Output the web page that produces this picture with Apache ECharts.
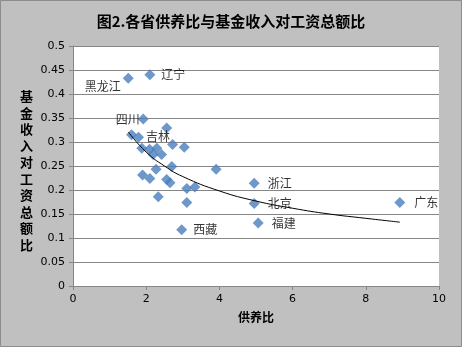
<!DOCTYPE html>
<html><head><meta charset="utf-8">
<script src="https://cdn.jsdelivr.net/npm/echarts@6/dist/echarts.min.js"></script>
<style>html,body{margin:0;padding:0;background:#c0c0c0}#c{width:462px;height:347px}</style>
</head><body><div id="c"></div>
<script>
// Scatter points: dependency ratio (x) vs fund income / total wages (y)
const xVals = [1.51, 2.10, 1.92, 2.56, 1.60, 1.79, 2.72, 3.04, 1.88, 2.09, 2.29, 2.42, 2.19, 2.27, 2.70, 3.91, 1.90, 2.10, 2.56, 2.65, 4.95, 3.11, 3.33, 2.33, 3.11, 4.95, 5.06, 2.97, 8.93];
const yVals = [0.433, 0.440, 0.348, 0.329, 0.315, 0.310, 0.295, 0.289, 0.287, 0.285, 0.287, 0.274, 0.274, 0.243, 0.249, 0.243, 0.231, 0.224, 0.222, 0.215, 0.214, 0.203, 0.206, 0.186, 0.174, 0.172, 0.131, 0.117, 0.174];
const pointNames = ['黑龙江', '辽宁', '四川', '', '', '吉林', '', '', '', '', '', '', '', '', '', '', '', '', '', '', '浙江', '', '', '', '', '北京', '福建', '西藏', '广东'];
// Trend line
const trendX = [1.51, 2, 2.5, 3, 4, 5, 6, 7, 8, 8.93];
const trendY = [0.321, 0.279, 0.250, 0.228, 0.198, 0.177, 0.162, 0.150, 0.141, 0.133];
const xTicks = [0, 2, 4, 6, 8, 10];
const yTicks = [0, 0.05, 0.1, 0.15, 0.2, 0.25, 0.3, 0.35, 0.4, 0.45, 0.5];

const labelStyle = {
  '黑龙江': {position: 'left', offset: [3, 8]},
  '四川': {position: 'left', offset: [7, 0]},
  '吉林': {position: 'right', offset: [-3, -1]},
  '辽宁': {position: 'right', offset: [1, 0]},
  '西藏': {position: 'right', offset: [1, 0]},
  '广东': {position: 'right', offset: [4, 0]}
};
const scatterData = xVals.map((x, i) => {
  const n = pointNames[i];
  const d = {value: [x, yVals[i]], name: n};
  if (n) {
    const s = labelStyle[n] || {position: 'right', offset: [3, 0]};
    d.label = {show: true, formatter: n, position: s.position, offset: s.offset,
      color: '#000', fontSize: 12, fontFamily: 'Noto Sans CJK SC'};
  }
  return d;
});

const chart = echarts.init(document.getElementById('c'));
chart.setOption({
  backgroundColor: '#c0c0c0',
  animation: false,
  graphic: [{type: 'rect', shape: {x: 0.5, y: 0.5, width: 461, height: 346},
    style: {fill: 'none', stroke: '#8c8c8c', lineWidth: 1}, z: 100},
  {type: 'text', left: 20, top: 88, z: 100,
    style: {text: '基\n金\n收\n入\n对\n工\n资\n总\n额\n比', fill: '#000', fontSize: 13, lineHeight: 16.5,
      fontWeight: 'bold', fontFamily: 'Noto Sans CJK SC'}}],
  title: {text: '图2.各省供养比与基金收入对工资总额比', left: 'center', top: 9,
    textStyle: {fontSize: 15, fontWeight: 'bold', color: '#000', fontFamily: 'Noto Sans CJK SC'}},
  grid: {left: 73, right: 23, top: 46, bottom: 61, show: true, backgroundColor: '#fff', borderWidth: 0},
  xAxis: {type: 'value', min: 0, max: 10, interval: 2,
    name: '供养比', nameLocation: 'middle', nameGap: 25,
    nameTextStyle: {fontSize: 12, fontWeight: 'bold', color: '#000', fontFamily: 'Noto Sans CJK SC'},
    axisLine: {show: true, lineStyle: {color: '#868686'}},
    axisTick: {show: true, length: 4, lineStyle: {color: '#868686'}},
    axisLabel: {color: '#000', fontSize: 11, fontFamily: 'DejaVu Sans', margin: 8,
      formatter: v => xTicks.includes(v) ? String(v) : ''},
    splitLine: {show: false}},
  yAxis: {type: 'value', min: 0, max: 0.5, interval: 0.05,
    axisLine: {show: true, lineStyle: {color: '#868686'}},
    axisTick: {show: true, length: 4, lineStyle: {color: '#868686'}},
    axisLabel: {color: '#000', fontSize: 11, fontFamily: 'DejaVu Sans', margin: 8,
      formatter: v => { const t = yTicks.find(k => Math.abs(k - v) < 1e-9); return t === undefined ? '' : String(t); }},
    splitLine: {show: true, lineStyle: {color: '#868686', width: 1}}},
  series: [
    {type: 'scatter', symbol: 'diamond', symbolSize: 11, data: scatterData,
      itemStyle: {color: '#4a7ebb'}, z: 3},
    {type: 'line', data: trendX.map((x, i) => [x, trendY[i]]), smooth: true, symbol: 'none',
      lineStyle: {color: '#000', width: 1}, z: 4}
  ]
});
</script></body></html>
